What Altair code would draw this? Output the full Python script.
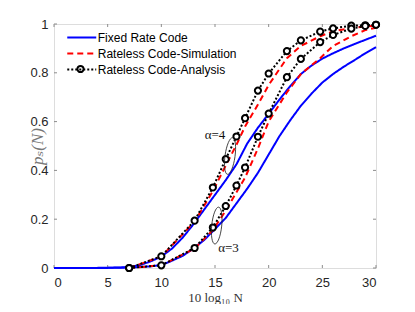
import altair as alt
import pandas as pd

# ---------------- data ----------------
series_names = ["Fixed Rate Code", "Rateless Code-Simulation", "Rateless Code-Analysis"]

# Fixed rate code (smooth curves)
fixed_x = [0, 1, 2, 3, 4, 5, 6, 7, 8, 9, 10, 11, 12, 13, 14, 15, 16, 17, 18, 19, 20,
           21, 22, 23, 24, 25, 26, 27, 28, 29, 30]
fixed_a4 = [0.0, 0.0, 0.0, 0.0, 0.0005, 0.001, 0.002, 0.004, 0.012, 0.027, 0.047, 0.08,
            0.125, 0.18, 0.24, 0.30, 0.36, 0.425, 0.51, 0.575, 0.632, 0.69, 0.745,
            0.795, 0.83, 0.858, 0.88, 0.90, 0.918, 0.935, 0.952]
fixed_a3 = [0.0, 0.0, 0.0, 0.0, 0.0, 0.0005, 0.001, 0.002, 0.004, 0.007, 0.012, 0.03,
            0.05, 0.08, 0.115, 0.16, 0.205, 0.265, 0.325, 0.39, 0.465, 0.54, 0.605,
            0.665, 0.715, 0.76, 0.795, 0.825, 0.852, 0.88, 0.905]

# Rateless code points (simulation and analysis share x positions)
rl_x = [7, 10, 13.1, 14.8, 16, 17, 17.8, 19, 20, 21.7, 23, 24.8, 26, 27.7, 29, 30]
sim_a4 = [0.0, 0.047, 0.19, 0.315, 0.42, 0.505, 0.58, 0.67, 0.75, 0.86, 0.91, 0.95,
          0.97, 0.983, 0.99, 0.993]
sim_a3 = [0.0, 0.011, 0.08, 0.155, 0.235, 0.31, 0.37, 0.49, 0.60, 0.72, 0.795, 0.86,
          0.91, 0.95, 0.975, 0.985]
ana_a4 = [0.0, 0.048, 0.194, 0.33, 0.446, 0.539, 0.614, 0.727, 0.797, 0.889, 0.933,
          0.969, 0.982, 0.993, 0.995, 0.997]
ana_a3 = [0.0, 0.011, 0.082, 0.166, 0.254, 0.338, 0.412, 0.538, 0.633, 0.782, 0.857,
          0.926, 0.955, 0.981, 0.992, 0.997]

x_ticks = [0, 5, 10, 15, 20, 25, 30]
y_ticks = [0, 0.2, 0.4, 0.6, 0.8, 1.0]

# annotations (data units)
ann_text = ["\u03b1=4", "\u03b1=3"]
ann_tx = [14.04, 15.3]
ann_ty = [0.529, 0.066]
ell_x = [16.4, 15.16]
ell_y = [0.459, 0.174]
ell_angle = [8, 6]

# ---------------- tables ----------------
rows = []
for name, xs, ys, a in [
    (series_names[0], fixed_x, fixed_a4, "4"),
    (series_names[0], fixed_x, fixed_a3, "3"),
    (series_names[1], rl_x, sim_a4, "4"),
    (series_names[1], rl_x, sim_a3, "3"),
    (series_names[2], rl_x, ana_a4, "4"),
    (series_names[2], rl_x, ana_a3, "3"),
]:
    for xv, yv in zip(xs, ys):
        rows.append({"series": name, "alpha": a, "key": name + a, "x": xv, "y": yv})
df = pd.DataFrame(rows)
df_pts = df[df["series"] == series_names[2]].copy()

ann_df = pd.DataFrame({"t": ann_text, "x": ann_tx, "y": ann_ty})
ell_df = pd.DataFrame({"x": ell_x, "y": ell_y, "a": ell_angle})
xt_df = pd.DataFrame({"t": x_ticks})
yt_df = pd.DataFrame({"t": y_ticks})
glyph_df = pd.DataFrame({"series": [series_names[2]]})

W, H = 322, 244
gray = "#8c8c8c"
serif = "Liberation Serif, DejaVu Serif, serif"
LEG_X, LEG_Y = 19.25, 5

xscale = alt.Scale(domain=[0, 30], nice=False, zero=False)
yscale = alt.Scale(domain=[0, 1], nice=False)

xaxis = alt.Axis(values=x_ticks, format="~g", title="10 log\u2081\u2080 N",
                 titleFont=serif, titleFontSize=13, titleFontWeight="normal",
                 titleColor="#333333", titleBaseline="alphabetic", titleY=33,
                 labelFont="Liberation Sans", labelFontSize=13, labelColor="#262626",
                 labelPadding=8, ticks=False, domain=False, grid=False)
yaxis = alt.Axis(values=y_ticks, format="~g", title="p\u209b(N)",
                 titleFont=serif, titleFontSize=17, titleFontWeight="normal",
                 titleFontStyle="italic", titleColor="#777777",
                 titleX=-17, titleY=H / 2, titleBaseline="middle",
                 labelFont="Liberation Sans", labelFontSize=13, labelColor="#262626",
                 labelPadding=6, ticks=False, domain=False, grid=False)

leg = dict(title=None, orient="none", legendX=LEG_X, legendY=LEG_Y,
           symbolType="M-2,0L2,0", symbolSize=210, symbolStrokeWidth=2, labelOffset=7.5,
           labelFont="Liberation Sans", labelFontSize=12, labelColor="#000000",
           rowPadding=1, padding=0)

lines = alt.Chart(df).mark_line(strokeWidth=2).encode(
    x=alt.X("x:Q", scale=xscale, axis=xaxis),
    y=alt.Y("y:Q", scale=yscale, axis=yaxis),
    color=alt.Color("series:N",
                    scale=alt.Scale(domain=series_names, range=["#0000ff", "#ff0000", "#000000"]),
                    legend=alt.Legend(**leg)),
    strokeDash=alt.StrokeDash("series:N",
                              scale=alt.Scale(domain=series_names, range=[[1, 0], [6, 4], [2, 2]]),
                              legend=alt.Legend(**leg)),
    detail="key:N",
    order="x:Q",
)

points = alt.Chart(df_pts).mark_point(filled=True, size=38, fill="white",
                                      stroke="black", strokeWidth=2, opacity=1).encode(
    x=alt.X("x:Q", scale=xscale),
    y=alt.Y("y:Q", scale=yscale),
)

# circle marker on the legend's "Rateless Code-Analysis" entry
legend_glyph = alt.Chart(glyph_df).mark_point(
    filled=True, size=38, fill="white", stroke="black", strokeWidth=2, opacity=1).encode(
    x=alt.value(LEG_X + 7.25), y=alt.value(LEG_Y + 40))

texts = alt.Chart(ann_df).mark_text(font=serif, fontSize=13, align="left",
                                    baseline="alphabetic", color="#111111").encode(
    x=alt.X("x:Q", scale=xscale), y=alt.Y("y:Q", scale=yscale), text="t:N")

ellipses = alt.Chart(ell_df).mark_point(
    shape="M0,-1 A0.27,1 0 1,1 0,1 A0.27,1 0 1,1 0,-1 Z",
    size=1369, filled=False, stroke="#222222", strokeWidth=0.8, opacity=1).encode(
    x=alt.X("x:Q", scale=xscale), y=alt.Y("y:Q", scale=yscale),
    angle=alt.Angle("a:Q", scale=None))

xt_bot = alt.Chart(xt_df).mark_rule(color=gray, strokeWidth=1).encode(
    x=alt.X("t:Q", scale=xscale), y=alt.value(H), y2=alt.value(H - 3))
xt_top = alt.Chart(xt_df).mark_rule(color=gray, strokeWidth=1).encode(
    x=alt.X("t:Q", scale=xscale), y=alt.value(0), y2=alt.value(3))
yt_left = alt.Chart(yt_df).mark_rule(color=gray, strokeWidth=1).encode(
    y=alt.Y("t:Q", scale=yscale), x=alt.value(0), x2=alt.value(3))
yt_right = alt.Chart(yt_df).mark_rule(color=gray, strokeWidth=1).encode(
    y=alt.Y("t:Q", scale=yscale), x=alt.value(W), x2=alt.value(W - 3))

chart = alt.layer(xt_bot, xt_top, yt_left, yt_right, lines, points, ellipses, texts,
                  legend_glyph).properties(
    width=W, height=H,
    autosize=alt.AutoSizeParams(type="none"),
    padding={"left": 46, "top": 16, "right": 31, "bottom": 36},
).configure_view(stroke=gray, strokeWidth=1).configure(background="white")

chart.save("out.html", embed_options={"renderer": "svg", "actions": False})
